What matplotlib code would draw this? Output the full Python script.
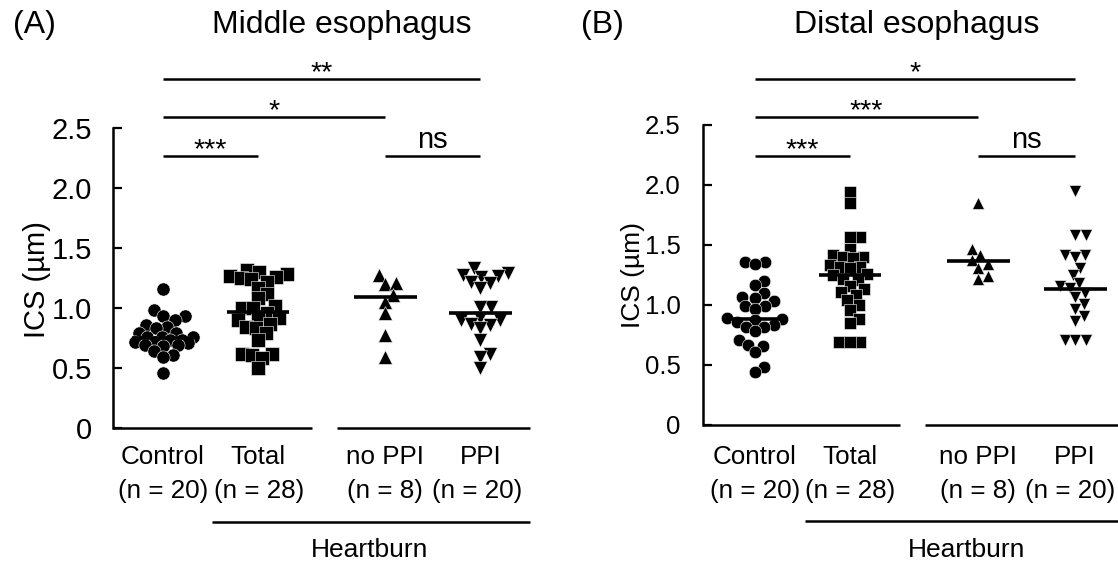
import numpy as np
import matplotlib
matplotlib.use("Agg")
import matplotlib.pyplot as plt

plt.rcParams['font.family'] = ['Liberation Sans', 'DejaVu Sans']

# ---------------- data ----------------
groups = ["Control", "Total", "no PPI", "PPI"]
group_n = ["(n = 20)", "(n = 28)", "(n = 8)", "(n = 20)"]
markers = ["o", "s", "^", "v"]

mid_control = [1.16, 0.98, 0.93, 0.93, 0.90, 0.86, 0.84, 0.83, 0.79, 0.79, 0.76, 0.76,
               0.76, 0.73, 0.73, 0.72, 0.72, 0.71, 0.69, 0.69, 0.68, 0.64, 0.61, 0.59, 0.46]
mid_total = [1.32, 1.30, 1.28, 1.27, 1.26, 1.25, 1.24, 1.22, 1.17, 1.12, 1.08, 1.02, 1.00,
             1.00, 0.96, 0.92, 0.92, 0.90, 0.87, 0.84, 0.83, 0.79, 0.73, 0.62, 0.62, 0.61,
             0.58, 0.50]
mid_noppi = [1.275, 1.20, 1.21, 1.11, 1.05, 0.96, 0.775, 0.59]
mid_ppi = [1.33, 1.29, 1.275, 1.27, 1.26, 1.22, 1.21, 1.17, 1.01, 1.01, 0.92, 0.90, 0.90,
           0.87, 0.86, 0.83, 0.73, 0.62, 0.59, 0.50]
mid_lines = [0.75, 0.97, 1.09, 0.96]

dis_control = [1.36, 1.36, 1.34, 1.20, 1.17, 1.10, 1.07, 1.06, 1.03, 0.99, 0.99, 0.97,
               0.89, 0.88, 0.875, 0.86, 0.83, 0.82, 0.82, 0.78, 0.71, 0.67, 0.66, 0.61,
               0.48, 0.44]
dis_total = [1.94, 1.85, 1.57, 1.57, 1.47, 1.42, 1.40, 1.40, 1.39, 1.33, 1.32, 1.32, 1.31,
             1.26, 1.25, 1.22, 1.21, 1.16, 1.13, 1.11, 1.08, 1.04, 1.00, 0.96, 0.88, 0.85,
             0.69, 0.69, 0.69]
dis_noppi = [1.85, 1.47, 1.42, 1.375, 1.34, 1.31, 1.24, 1.22]
dis_ppi = [1.95, 1.58, 1.58, 1.42, 1.42, 1.40, 1.31, 1.25, 1.18, 1.155, 1.14, 1.10, 1.07,
           1.01, 0.97, 0.91, 0.87, 0.71, 0.71, 0.71]
dis_lines = [0.88, 1.25, 1.37, 1.13]

yticks = [0, 0.5, 1.0, 1.5, 2.0, 2.5]
yticklabels = ["0", "0.5", "1.0", "1.5", "2.0", "2.5"]

# significance comparisons: (i, j, label)
mid_sig = [(0, 3, "**"), (0, 2, "*"), (0, 1, "***"), (2, 3, "ns")]
dis_sig = [(0, 3, "*"), (0, 2, "***"), (0, 1, "***"), (2, 3, "ns")]

# ---------------- layout ----------------
W, H = 1118, 565
fig = plt.figure(figsize=(W / 100, H / 100), dpi=100)


def px_box(left, right, y0, ytop):
    return [left / W, (H - y0) / H, (right - left) / W, (y0 - ytop) / H]


def swarm_x(values, center, ppx, ppy, d, maxoff):
    """Greedy beeswarm in pixel space with a maximum half-width."""
    vals = np.asarray(values, float)
    order = np.argsort(vals)
    xs = np.zeros(len(vals))
    placed = []
    step = 0.5
    cands = [0.0]
    k = 1
    while k * step <= maxoff:
        cands += [k * step, -k * step]
        k += 1
    for i in order:
        yp = vals[i] * ppy
        best, best_gap = 0.0, -1.0
        chosen = None
        for off in cands:
            if not placed:
                chosen = off
                break
            gap = min(np.hypot(off - px, yp - py) for px, py in placed)
            if gap >= d:
                chosen = off
                break
            if gap > best_gap:
                best_gap, best = gap, off
        if chosen is None:
            chosen = best
        placed.append((chosen, yp))
        xs[i] = chosen
    return center + xs / ppx


def panel(box, pos, data, lines, xlim, sig, sig_y, tick_fs, tick_pad, msize,
          seg, hb_x0, ylab_xy, ylab_fs, title_xy, title, tag_xy, tag,
          cat_y, n_y, hb_line_y, hb_text_y, hb_text_x, n_shift):
    ax = fig.add_axes(box)
    ax.set_xlim(*xlim)
    ax.set_ylim(0, 2.5)
    ppx = box[2] * W / (xlim[1] - xlim[0])
    ppy = box[3] * H / 2.5
    diam = msize * 1.389
    for k in range(4):
        xs = swarm_x(data[k], pos[k], ppx, ppy, diam * 0.8, 30)
        ax.plot(xs, data[k], linestyle="none", marker=markers[k], ms=msize,
                mfc="black", mec="white", mew=0.4, zorder=3, clip_on=False)
        ax.plot([pos[k] - 0.33, pos[k] + 0.33], [lines[k], lines[k]], color="black",
                lw=2.6, zorder=4, solid_capstyle="butt")
    for s in ["top", "right", "bottom"]:
        ax.spines[s].set_visible(False)
    ax.spines["left"].set_linewidth(1.8)
    ax.set_xticks([])
    ax.set_yticks(yticks)
    ax.set_yticklabels(yticklabels)
    ax.tick_params(axis="y", direction="in", length=6.5, width=1.6, labelsize=tick_fs,
                   pad=tick_pad)
    # broken x axis
    for a, b in seg:
        ax.plot([a, b], [0, 0], color="black", lw=1.8, clip_on=False,
                solid_capstyle="butt")
    # significance
    for (i, j, lab), yv in zip(sig, sig_y):
        ax.plot([pos[i], pos[j]], [yv, yv], color="black", lw=1.8, clip_on=False,
                solid_capstyle="butt")
        if lab == "ns":
            ax.text((pos[i] + pos[j]) / 2, yv + 0.065, lab, ha="center", va="baseline",
                    fontsize=21)
        else:
            ax.text((pos[i] + pos[j]) / 2, yv - 0.01, lab, ha="center", va="baseline",
                    fontsize=20.5)
    # category labels
    for k in range(4):
        ax.text(pos[k], cat_y, groups[k], ha="center", va="center", fontsize=18.7,
                clip_on=False)
        ax.text(pos[k] + n_shift[k], n_y, group_n[k], ha="center", va="center",
                fontsize=18.7, clip_on=False)
    ax.plot([hb_x0, xlim[1]], [hb_line_y, hb_line_y], color="black", lw=1.8,
            clip_on=False, solid_capstyle="butt")
    ax.text(hb_text_x, hb_text_y, "Heartburn", ha="center", va="center", fontsize=19)
    fig.text(ylab_xy[0] / W, 1 - ylab_xy[1] / H, "ICS (µm)", rotation=90, ha="center",
             va="center", fontsize=ylab_fs)
    fig.text(title_xy[0] / W, 1 - title_xy[1] / H, title, ha="center", va="center",
             fontsize=23)
    fig.text(tag_xy[0] / W, 1 - tag_xy[1] / H, tag, ha="center", va="center", fontsize=23)
    return ax


# Panel A
posA = [0, 1, 2.34, 3.34]
boxA = px_box(113, 530, 428, 128)
xlimA = (-0.526, 3.863)
panel(boxA, posA, [mid_control, mid_total, mid_noppi, mid_ppi], mid_lines, xlimA,
      mid_sig, [2.91, 2.59, 2.27, 2.27], 21, 15, 9.5,
      [(-0.526, 1.57), (1.83, 3.863)], 0.52, (37, 280), 21,
      (342, 25), "Middle esophagus", (34, 25), "(A)",
      -0.242, -0.525, -0.783, -1.017, (370 - 163) / 95, [0, 0.01, 0, -0.03])

# Panel B
posB = [0, 1, 2.35, 3.37]
boxB = px_box(703, 1118, 425, 125)
xlimB = (-0.547, 3.821)
panel(boxB, posB, [dis_control, dis_total, dis_noppi, dis_ppi], dis_lines, xlimB,
      dis_sig, [2.88, 2.57, 2.24, 2.24], 18.5, 16, 9,
      [(-0.547, 1.53), (1.79, 3.821)], 0.53, (633, 275), 19,
      (917, 25), "Distal esophagus", (602, 25), "(B)",
      -0.267, -0.55, -0.80, -1.04, (967 - 755) / 95, [0, 0, 0, -0.05])

fig.savefig("out.png", dpi=100)
